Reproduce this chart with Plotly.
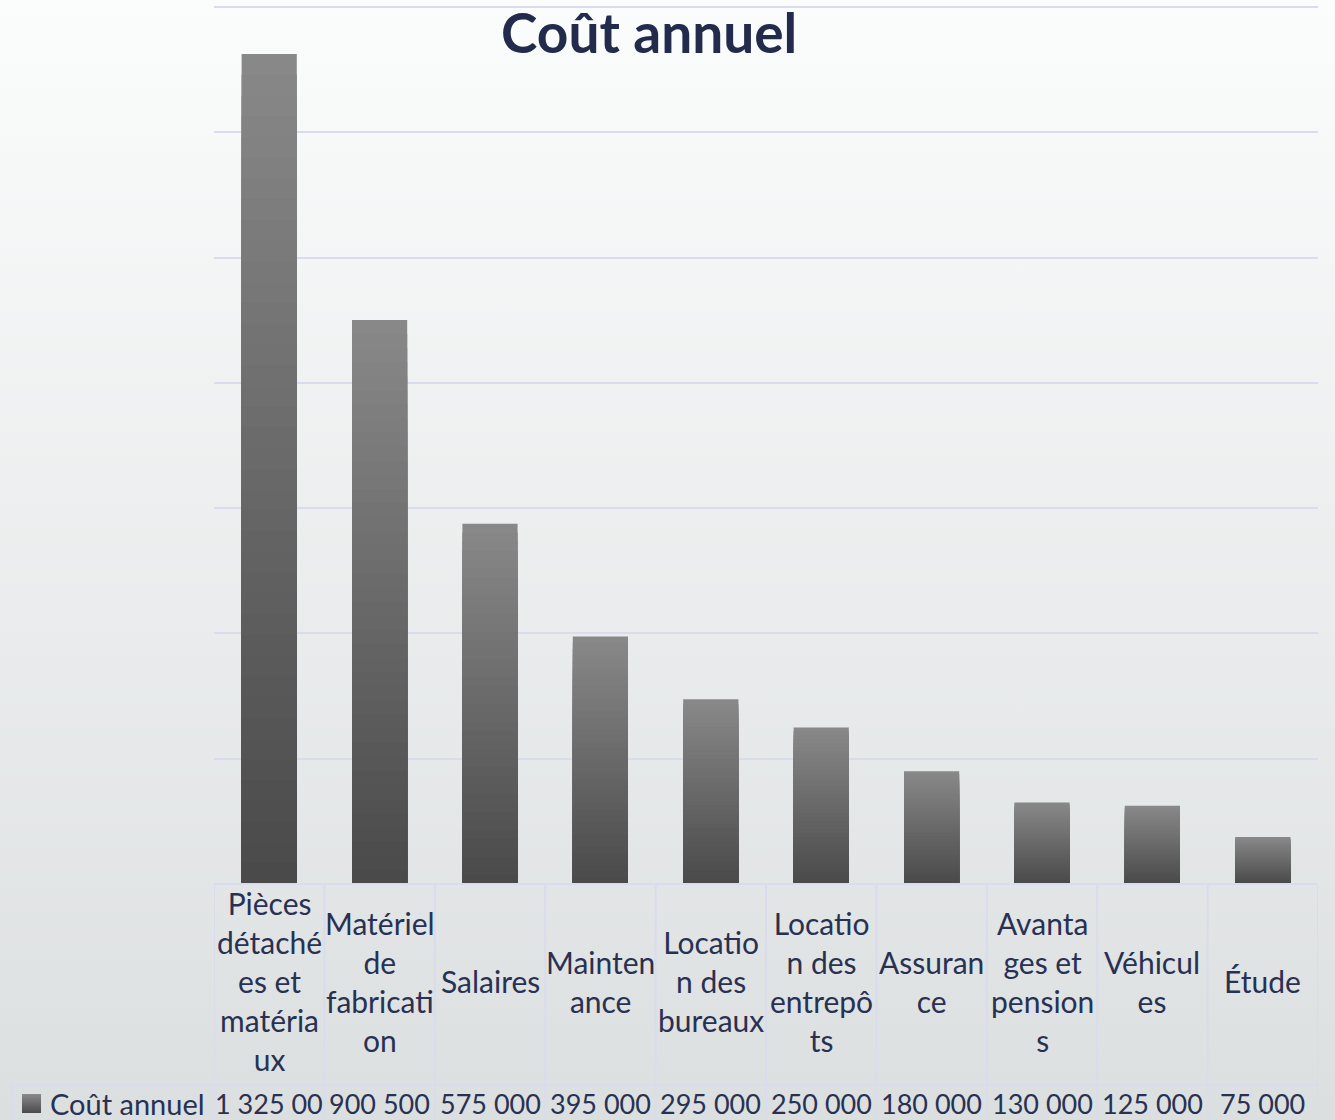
import base64
import plotly.graph_objects as go

# ---- data ----
categories = ["Pièces détachées et matériaux", "Matériel de fabrication", "Salaires",
              "Maintenance", "Location des bureaux", "Location des entrepôts",
              "Assurance", "Avantages et pensions", "Véhicules", "Étude"]
tick_labels = ["Pièces<br>détaché<br>es et<br>matéria<br>ux", "Matériel<br>de<br>fabricati<br>on",
               "Salaires", "Mainten<br>ance", "Locatio<br>n des<br>bureaux",
               "Locatio<br>n des<br>entrepô<br>ts", "Assuran<br>ce", "Avanta<br>ges et<br>pension<br>s",
               "Véhicul<br>es", "Étude"]
values = [1325000, 900500, 575000, 395000, 295000, 250000, 180000, 130000, 125000, 75000]
series_name = "Coût annuel"
title_text = "Coût annuel"

W, H = 1335, 1120
X0, X1 = 214, 1318      # plot area px
Y0, Y1 = 7, 884
TABLE_MID = 1085
FONT = "Lato"
TXT = "#283152"
GRID = "#d9dcec"


def fmt(v):
    s = f"{v:,}".replace(",", " ")
    return s[:8]  # cell clips long numbers


def mix(c1, c2, t):
    return "#%02x%02x%02x" % tuple(round(a + (b - a) * t) for a, b in zip(c1, c2))


LIGHT = (0x88, 0x88, 0x88)
DARK = (0x4a, 0x4a, 0x4a)

fig = go.Figure()
N = 40
for k in range(N):
    frac = (N - k) / N
    col = mix(LIGHT, DARK, k / (N - 1))
    fig.add_trace(go.Bar(
        x=categories, y=[v * frac for v in values], width=0.5,
        marker=dict(color=col, line=dict(width=0)),
        name=series_name, showlegend=False,
        hoverinfo="skip" if k else "x+y",
    ))

# background gradient via svg image
svg = ('<svg xmlns="http://www.w3.org/2000/svg" width="10" height="100" preserveAspectRatio="none">'
       '<defs><linearGradient id="g" x1="0" y1="0" x2="0" y2="1">'
       '<stop offset="0" stop-color="#fbfcfc"/><stop offset="1" stop-color="#dcdfe0"/>'
       '</linearGradient></defs><rect width="10" height="100" fill="url(#g)"/></svg>')
src = "data:image/svg+xml;base64," + base64.b64encode(svg.encode()).decode()

key_svg = ('<svg xmlns="http://www.w3.org/2000/svg" width="10" height="10" preserveAspectRatio="none">'
           '<defs><linearGradient id="g" x1="0" y1="0" x2="0" y2="1">'
           '<stop offset="0" stop-color="#8a8a8a"/><stop offset="1" stop-color="#4a4a4a"/>'
           '</linearGradient></defs><rect width="10" height="10" fill="url(#g)"/></svg>')
key_src = "data:image/svg+xml;base64," + base64.b64encode(key_svg.encode()).decode()


def px(x):
    return x / W


def py(y):
    return 1 - y / H


shapes = []
# table vertical lines
for i in range(len(categories) + 1):
    shapes.append(dict(type="line", xref="x", yref="paper", x0=i - 0.5, x1=i - 0.5,
                       y0=py(Y1), y1=0, line=dict(color=GRID, width=2), layer="above"))
shapes.append(dict(type="line", xref="paper", yref="paper", x0=px(12), x1=px(X1),
                   y0=py(TABLE_MID), y1=py(TABLE_MID), line=dict(color=GRID, width=2)))
shapes.append(dict(type="line", xref="paper", yref="paper", x0=px(12), x1=px(12),
                   y0=py(TABLE_MID), y1=0, line=dict(color=GRID, width=2)))
shapes.append(dict(type="line", xref="paper", yref="paper", x0=px(X0), x1=px(X1),
                   y0=py(Y1), y1=py(Y1), line=dict(color=GRID, width=2)))
shapes.append(dict(type="line", xref="paper", yref="paper", x0=px(X0), x1=px(X1),
                   y0=py(Y0), y1=py(Y0), line=dict(color=GRID, width=2), layer="below"))

annotations = []
for c, lab, v in zip(categories, tick_labels, values):
    annotations.append(dict(x=c, xref="x", y=py(981), yref="paper", text=lab, showarrow=False,
                            xanchor="center", yanchor="middle", align="center",
                            font=dict(family=FONT, size=30, color=TXT)))
    annotations.append(dict(x=c, xref="x", y=py(1103), yref="paper", text=fmt(v), showarrow=False,
                            xanchor="center", yanchor="middle",
                            font=dict(family=FONT, size=27, color=TXT)))
annotations.append(dict(x=px(48), xref="paper", y=py(1103), yref="paper", text=series_name,
                        showarrow=False, xanchor="left", yanchor="middle",
                        font=dict(family=FONT, size=29, color=TXT)))
annotations.append(dict(x=px(649), xref="paper", y=py(32), yref="paper", text="<b>" + title_text + "</b>",
                        showarrow=False, xanchor="center", yanchor="middle",
                        font=dict(family=FONT, size=55, color="#222b4b")))

fig.update_layout(
    width=W, height=H, margin=dict(l=0, r=0, t=0, b=0),
    paper_bgcolor="#f0f2f2", plot_bgcolor="rgba(0,0,0,0)",
    barmode="overlay", bargap=0.5, showlegend=False,
    images=[dict(source=src, xref="paper", yref="paper", x=0, y=1, sizex=1, sizey=1,
                 sizing="stretch", layer="below", xanchor="left", yanchor="top"),
            dict(source=key_src, xref="paper", yref="paper", x=px(22), y=py(1094), sizex=px(19),
                 sizey=19 / H, sizing="stretch", layer="above", xanchor="left", yanchor="top")],
    xaxis=dict(domain=[px(X0), px(X1)], range=[-0.5, len(categories) - 0.5],
               showticklabels=False, showgrid=False, zeroline=False, showline=False, ticks=""),
    yaxis=dict(domain=[py(Y1), py(Y0)], range=[0, 1400000], dtick=200000, showticklabels=False,
               showgrid=True, gridcolor=GRID, gridwidth=2, zeroline=False, showline=False, ticks=""),
    shapes=shapes, annotations=annotations,
)

fig.write_html("out.html")
